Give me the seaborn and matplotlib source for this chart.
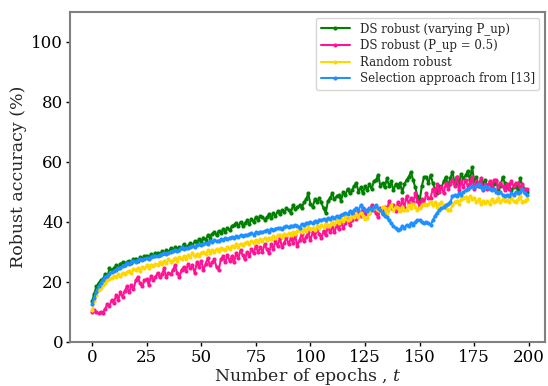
import pandas as pd
import matplotlib
matplotlib.use("Agg")
import matplotlib.pyplot as plt
import seaborn as sns

sns.set_theme(style="white")
plt.rcParams['font.family'] = ['DejaVu Serif']
plt.rcParams['mathtext.fontset'] = 'dejavuserif'

# Robust accuracy (%) per epoch (epochs 0..199)
ds_varying = [
    13.5, 16.0, 18.5, 19.5, 20.5, 21.0, 22.5, 21.5, 24.5, 24.0,
    24.5, 25.5, 24.8, 26.0, 26.5, 25.8, 26.7, 27.0, 26.2, 27.5,
    27.8, 27.0, 28.2, 27.5, 28.5, 28.8, 28.0, 29.2, 28.6, 29.5,
    29.7, 29.0, 30.2, 29.5, 30.5, 30.0, 31.2, 30.5, 31.5, 31.0,
    31.7, 31.2, 32.5, 31.5, 32.0, 33.0, 32.2, 33.5, 33.0, 34.2,
    33.5, 34.8, 34.0, 35.5, 34.8, 36.0, 36.7, 35.5, 37.0, 36.2,
    37.5, 36.8, 38.0, 37.2, 38.5, 39.0, 39.7, 38.5, 40.0, 38.8,
    39.5, 40.5, 39.2, 41.0, 40.0, 41.5, 40.5, 42.0, 41.7, 40.8,
    41.5, 42.5, 41.2, 43.0, 42.0, 43.5, 42.5, 44.0, 43.2, 44.5,
    44.0, 43.0, 45.5, 44.2, 45.0, 45.5, 44.5, 46.5, 47.5, 49.5,
    46.0, 45.0, 47.5, 46.5, 48.0, 46.5, 44.5, 43.0, 47.0, 48.0,
    49.5, 47.5, 48.5, 49.0, 47.0, 50.0, 49.0, 51.0, 49.5, 50.5,
    52.0, 53.0, 50.0, 51.5, 49.5, 52.0, 50.5, 52.5, 51.0, 53.5,
    54.0, 55.7, 52.0, 53.0, 51.5, 54.5, 52.0, 53.5, 50.5, 52.5,
    51.7, 53.0, 50.0, 52.5, 54.0, 55.0, 56.7, 54.0, 51.5, 48.5,
    47.0, 52.0, 55.0, 55.0, 53.0, 55.7, 53.0, 51.0, 49.7, 52.0,
    51.5, 53.5, 55.0, 52.0, 54.5, 56.7, 53.0, 55.0, 52.5, 56.0,
    54.5, 55.5, 57.0, 54.0, 58.3, 53.5, 55.0, 52.0, 53.5, 52.5,
    54.0, 52.0, 53.0, 51.5, 52.5, 53.5, 51.0, 52.0, 55.0, 53.0,
    51.5, 52.5, 50.5, 51.5, 52.0, 50.5, 54.7, 52.0, 51.0, 50.0,
]
ds_half = [
    10.0, 10.5, 10.0, 9.5, 10.0, 9.8, 11.0, 12.5, 12.0, 14.0,
    13.0, 15.5, 14.0, 16.5, 15.0, 17.0, 18.5, 16.5, 19.0, 17.5,
    20.5, 21.7, 19.5, 18.5, 20.5, 21.0, 19.0, 22.0, 20.5, 21.5,
    23.0, 21.5, 22.5, 24.5, 21.5, 23.0, 22.5, 24.0, 25.5, 23.0,
    21.5, 24.0, 25.0, 23.5, 26.0, 24.5, 25.5, 23.0, 26.5, 25.0,
    27.0, 24.0, 26.0, 28.0, 25.5, 26.5, 27.5, 25.0, 24.0, 27.5,
    28.5, 26.5, 29.0, 27.0, 28.5, 26.5, 29.5, 28.0, 30.5, 29.0,
    27.5, 30.0, 28.5, 31.0, 29.5, 32.0, 30.0, 31.5, 30.0, 32.5,
    31.0, 29.5, 32.5, 31.0, 33.5, 32.0, 34.7, 31.5, 33.0, 35.0,
    32.5, 34.5, 33.0, 35.5, 32.0, 34.0, 36.0, 33.5, 35.0, 36.5,
    34.0, 36.5, 35.0, 37.5, 36.0, 34.5, 37.0, 35.5, 38.5, 36.5,
    38.3, 36.5, 39.0, 37.5, 40.0, 38.0, 39.5, 41.0, 39.0, 40.5,
    42.5, 41.0, 43.5, 42.0, 44.5, 42.5, 44.0, 43.0, 45.5, 44.0,
    43.0, 41.5, 44.5, 42.5, 45.0, 43.5, 47.0, 44.5, 45.7, 43.5,
    46.5, 44.0, 47.5, 45.0, 48.5, 46.0, 48.0, 46.5, 49.5, 47.0,
    45.0, 47.5, 46.0, 49.5, 48.0, 48.0, 51.0, 49.0, 52.5, 50.0,
    51.5, 49.5, 53.0, 51.0, 52.5, 54.0, 52.0, 55.0, 50.5, 53.5,
    51.5, 54.0, 52.0, 53.0, 55.0, 51.0, 53.5, 52.0, 54.5, 50.5,
    52.5, 51.0, 53.5, 52.0, 54.0, 54.0, 51.5, 53.0, 52.0, 50.5,
    52.5, 51.0, 53.5, 52.0, 53.0, 53.0, 51.5, 52.5, 50.5, 51.0,
]
random_robust = [
    10.5, 13.5, 15.5, 17.3, 18.0, 19.0, 19.5, 20.5, 21.0, 21.3,
    22.0, 21.5, 22.5, 22.0, 23.0, 22.5, 23.3, 23.8, 23.0, 24.2,
    24.0, 24.5, 23.8, 25.0, 24.5, 25.5, 24.8, 25.8, 25.2, 26.0,
    25.5, 26.7, 26.0, 27.0, 26.2, 27.5, 26.8, 27.3, 28.0, 27.0,
    28.3, 27.5, 28.5, 27.8, 29.0, 28.2, 29.5, 28.5, 29.2, 28.8,
    29.5, 30.0, 29.2, 30.5, 29.8, 30.7, 30.0, 31.0, 30.3, 31.2,
    31.0, 30.5, 31.5, 31.0, 32.0, 31.5, 32.5, 31.8, 32.8, 32.2,
    33.0, 33.3, 32.5, 33.5, 33.0, 34.0, 33.2, 34.2, 33.8, 34.5,
    34.0, 34.8, 34.2, 35.2, 34.5, 35.5, 35.7, 35.0, 36.0, 35.5,
    36.2, 35.8, 36.5, 36.0, 37.0, 37.3, 36.5, 37.5, 37.0, 38.3,
    37.5, 38.0, 37.2, 38.5, 38.0, 39.0, 38.2, 39.5, 38.8, 39.0,
    40.0, 39.2, 40.5, 39.8, 41.0, 40.2, 41.5, 40.5, 41.0, 42.0,
    41.5, 42.5, 41.8, 43.0, 42.0, 41.0, 41.3, 43.0, 44.0, 44.5,
    45.0, 44.0, 43.5, 45.0, 44.5, 43.0, 44.5, 45.5, 44.0, 45.0,
    44.5, 43.5, 45.0, 44.0, 44.0, 45.5, 44.5, 46.0, 45.0, 44.0,
    44.6, 45.5, 46.0, 45.5, 46.0, 46.7, 45.5, 46.5, 45.0, 46.0,
    46.5, 45.5, 44.5, 44.0, 44.0, 45.5, 46.5, 47.0, 46.0, 47.5,
    48.0, 48.3, 47.0, 48.5, 47.5, 48.0, 46.5, 47.5, 46.0, 47.0,
    46.3, 47.0, 46.0, 47.5, 46.5, 47.0, 48.0, 46.5, 47.5, 47.0,
    47.3, 46.5, 48.0, 47.0, 46.5, 47.5, 48.5, 46.7, 47.0, 47.5,
]
selection_13 = [
    12.5, 14.5, 16.5, 18.5, 19.5, 20.7, 21.5, 22.0, 22.8, 23.3,
    23.5, 24.0, 24.5, 24.8, 25.2, 25.5, 26.3, 26.0, 26.5, 27.0,
    26.8, 27.2, 27.5, 27.3, 27.8, 28.0, 27.8, 28.3, 28.5, 28.8,
    28.5, 29.0, 29.2, 29.5, 29.3, 29.8, 30.0, 30.2, 30.5, 30.3,
    30.8, 31.5, 31.0, 31.3, 31.3, 31.8, 32.0, 31.7, 32.3, 32.5,
    32.3, 32.8, 33.0, 32.8, 33.5, 33.3, 34.0, 33.5, 33.8, 34.2,
    34.0, 34.5, 34.3, 34.8, 35.0, 34.7, 35.2, 35.0, 35.5, 35.3,
    35.7, 35.5, 36.0, 36.2, 35.8, 36.5, 36.3, 36.8, 36.5, 37.0,
    37.2, 36.8, 37.5, 37.3, 37.8, 38.0, 38.0, 37.7, 38.3, 38.5,
    38.2, 38.8, 38.5, 39.0, 38.8, 38.0, 39.3, 39.0, 39.5, 39.7,
    40.0, 39.5, 40.3, 40.0, 40.8, 40.5, 41.0, 40.7, 41.3, 41.0,
    41.5, 41.2, 42.0, 41.8, 42.3, 42.5, 43.0, 42.5, 43.5, 43.0,
    44.0, 44.6, 44.0, 45.5, 44.5, 44.0, 43.5, 44.5, 44.0, 45.0,
    45.5, 44.5, 44.0, 43.0, 42.0, 41.5, 40.5, 39.5, 38.5, 38.0,
    37.3, 37.5, 38.5, 38.0, 39.0, 38.5, 39.5, 39.0, 40.0, 40.5,
    40.7, 40.0, 39.5, 40.0, 39.5, 39.0, 40.5, 42.0, 43.0, 44.0,
    44.5, 45.0, 45.5, 46.0, 46.5, 48.5, 49.0, 48.5, 49.5, 49.0,
    50.0, 50.5, 51.0, 51.5, 52.0, 51.5, 52.0, 52.5, 51.5, 51.0,
    52.0, 51.5, 51.0, 50.5, 51.0, 50.0, 49.5, 50.0, 49.0, 48.5,
    49.0, 48.5, 49.5, 49.0, 50.0, 49.5, 50.0, 51.0, 49.5, 49.0,
]

labels = [
    "DS robust (varying P_up)",
    "DS robust (P_up = 0.5)",
    "Random robust",
    "Selection approach from [13]",
]
colors = ["green", "deeppink", "gold", "dodgerblue"]
series = [ds_varying, ds_half, random_robust, selection_13]

frames = []
for lab, vals in zip(labels, series):
    frames.append(pd.DataFrame({"epoch": range(len(vals)), "acc": vals, "method": lab}))
df = pd.concat(frames, ignore_index=True)

fig, ax = plt.subplots(figsize=(5.48, 3.86), dpi=100)
fig.subplots_adjust(left=0.128, right=0.995, bottom=0.114, top=0.969)

sns.lineplot(data=df, x="epoch", y="acc", hue="method", hue_order=labels,
             palette=dict(zip(labels, colors)), marker="o", markersize=3,
             markeredgewidth=0, linewidth=1.5, ax=ax)

ax.set_xlim(-10, 207.5)
ax.set_ylim(0, 110)
ax.set_xticks(range(0, 201, 25))
ax.set_yticks(range(0, 101, 20))
ax.tick_params(axis="both", labelsize=12, length=3, width=1, direction="out",
               pad=2, bottom=True, left=True, colors="black")
ax.set_xlabel("Number of epochs , $t$", fontsize=12.5, labelpad=0)
ax.set_ylabel("Robust accuracy (%)", fontsize=12.5, labelpad=3)
for sp in ax.spines.values():
    sp.set_color("#808080")
    sp.set_linewidth(1.5)

leg = ax.legend(loc="upper right", fontsize=8.5, frameon=True, handlelength=2.5,
                borderaxespad=0.5, labelspacing=0.3)
leg.get_frame().set_edgecolor("#cccccc")

fig.savefig("out.png", dpi=100)
